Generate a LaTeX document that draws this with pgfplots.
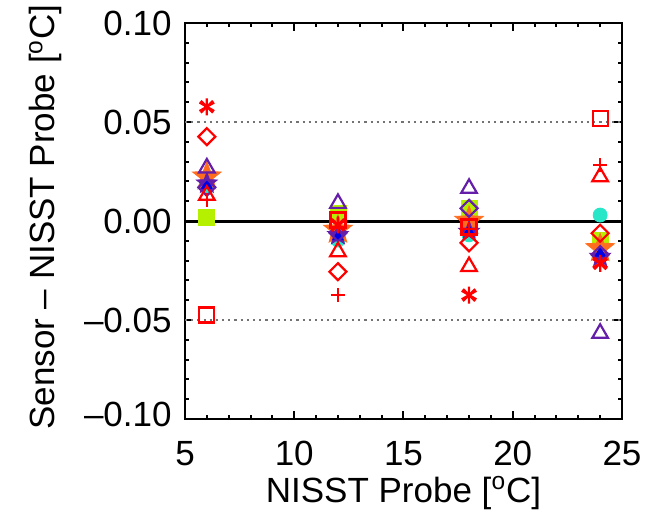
\documentclass[border=0pt]{standalone}
\usepackage{fontspec}
\setmainfont{Liberation Sans}
\usepackage{pgfplots}
\pgfplotsset{compat=1.18}
\definecolor{cred}{RGB}{255,0,0}
\definecolor{cpurple}{RGB}{100,30,170}
\definecolor{corange}{RGB}{255,110,30}
\definecolor{ccyan}{RGB}{40,230,200}
\definecolor{cygreen}{RGB}{180,240,0}
\definecolor{cblue}{RGB}{0,0,230}
\pgfdeclareplotmark{fstar}{%
  \pgfpathmoveto{\pgfpointpolar{90}{\pgfplotmarksize}}%
  \pgfpathlineto{\pgfpointpolar{126}{0.42\pgfplotmarksize}}%
  \pgfpathlineto{\pgfpointpolar{162}{\pgfplotmarksize}}%
  \pgfpathlineto{\pgfpointpolar{198}{0.42\pgfplotmarksize}}%
  \pgfpathlineto{\pgfpointpolar{234}{\pgfplotmarksize}}%
  \pgfpathlineto{\pgfpointpolar{270}{0.42\pgfplotmarksize}}%
  \pgfpathlineto{\pgfpointpolar{306}{\pgfplotmarksize}}%
  \pgfpathlineto{\pgfpointpolar{342}{0.42\pgfplotmarksize}}%
  \pgfpathlineto{\pgfpointpolar{18}{\pgfplotmarksize}}%
  \pgfpathlineto{\pgfpointpolar{54}{0.42\pgfplotmarksize}}%
  \pgfpathclose
  \pgfusepathqfillstroke}
\newcommand{\lblfont}{\fontsize{17.5bp}{21bp}\selectfont}
\begin{document}
\begin{tikzpicture}
\begin{axis}[
  scale only axis, width=218.5bp, height=198bp,
  xmin=5, xmax=25, ymin=-0.1, ymax=0.1,
  xtick={5,10,15,20,25}, xticklabels={5,10,15,20,25},
  ytick={-0.1,-0.05,0,0.05,0.1},
  yticklabels={\raisebox{5bp}{–0.10},\raisebox{-1bp}{–0.05},\raisebox{-1bp}{0.00},\raisebox{-1bp}{0.05},\raisebox{-5bp}{0.10}},
  minor x tick num=4, minor y tick num=4,
  tick align=inside,
  major tick length=4bp, minor tick length=2bp,
  axis line style={line width=1bp},
  every tick/.style={black, line width=1bp},
  tick label style={font=\lblfont},
  xticklabel style={anchor=base, yshift=-23bp},
  yticklabel style={anchor=east, inner sep=0pt, xshift=-6.5bp},
  xlabel={NISST Probe [\textsuperscript{o}C]},
  ylabel={Sensor – NISST Probe [\textsuperscript{o}C]},
  every axis x label/.style={at={(axis description cs:0.5,-0.2096)}, anchor=base, font=\lblfont},
  every axis y label/.style={at={(axis description cs:-0.2975,0.51)}, rotate=90, anchor=base, font=\lblfont},
  clip=false,
]
\addplot[gray!90!black, dotted, line width=1.1bp] coordinates {(5,0.05) (25,0.05)};
\addplot[gray!90!black, dotted, line width=1.1bp] coordinates {(5,-0.05) (25,-0.05)};
\addplot[black, line width=1.5bp] coordinates {(5,0) (25,0)};
% yellow-green filled squares
\addplot[only marks, mark=square*, mark size=4bp, draw=cygreen, fill=cygreen]
  coordinates {(6,0.002) (12,0.004) (18,0.0064) (24,-0.0096)};
% cyan filled circles
\addplot[only marks, mark=*, mark size=3.5bp, draw=ccyan, fill=ccyan]
  coordinates {(6,0.017) (12,-0.0096) (18,-0.007) (24,0.003)};
% orange stars
\addplot[only marks, mark=fstar, mark size=7.5bp, draw=corange, fill=corange]
  coordinates {(6,0.0224) (12,-0.0045) (18,0.0) (24,-0.0138)};
% purple stars
\addplot[only marks, mark=fstar, mark size=5.5bp, draw=cpurple, fill=cpurple]
  coordinates {(6,0.019) (12,-0.007) (18,-0.0054) (24,-0.018)};
% blue filled triangles
\addplot[only marks, mark=triangle*, mark size=3bp, draw=cblue, fill=cblue]
  coordinates {(6,0.018) (12,-0.008) (18,-0.0054) (24,-0.0163)};
% purple open diamonds
\addplot[only marks, mark=square, mark options={rotate=45}, mark size=3bp, line width=1.1bp, cpurple]
  coordinates {(6,0.017) (12,-0.006) (18,0.0064) (24,-0.017)};
% purple open triangles
\addplot[only marks, mark=triangle, mark size=4.5bp, line width=1.1bp, cpurple]
  coordinates {(6,0.0268) (12,0.0089) (18,0.0165) (24,-0.0567)};
% red asterisks
\addplot[only marks, mark=asterisk, mark size=4.25bp, line width=1.1bp, cred]
  coordinates {(6,0.0577) (12,-0.002) (18,-0.0374) (24,-0.0214)};
\addplot[only marks, mark=x, mark size=4.25bp, line width=1.1bp, cred]
  coordinates {(6,0.0577) (12,-0.002) (18,-0.0374) (24,-0.0214)};
% red diamonds
\addplot[only marks, mark=square, mark options={rotate=45}, mark size=3bp, line width=1.1bp, cred]
  coordinates {(6,0.0426) (12,-0.0256) (18,-0.011) (24,-0.0062)};
% red plus
\addplot[only marks, mark=+, mark size=3.6bp, line width=1.2bp, cred]
  coordinates {(6,0.0106) (12,-0.0374) (18,-0.004) (24,0.0283)};
% red triangles
\addplot[only marks, mark=triangle, mark size=4.5bp, line width=1.1bp, cred]
  coordinates {(6,0.013) (12,-0.0155) (18,-0.023) (24,0.0224)};
% red squares
\addplot[only marks, mark=square, mark size=3.75bp, line width=1.1bp, cred]
  coordinates {(6,-0.0475) (12,0.0005) (18,-0.003) (24,0.0519)};
\end{axis}
\pgfresetboundingbox
\path ([shift={(-92.5bp,-48bp)}]current axis.south west) rectangle ([shift={(19.5bp,11.5bp)}]current axis.north east);
\end{tikzpicture}
\end{document}
